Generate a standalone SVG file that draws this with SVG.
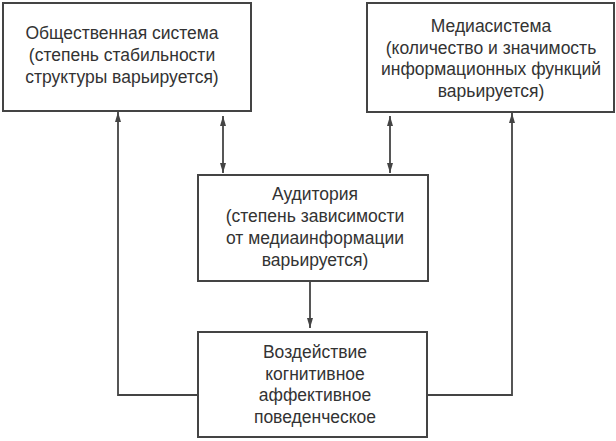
<svg xmlns="http://www.w3.org/2000/svg" width="616" height="441" viewBox="0 0 616 441">
<style>
.box{fill:#ffffff;stroke:#444;stroke-width:2}
.t{font-family:"Liberation Sans",Arial,sans-serif;font-size:17.5px;fill:#333;text-anchor:middle}
.c{fill:none;stroke:#444;stroke-width:1.8}
</style>
<defs>
<marker id="ah" viewBox="0 0 10 6" refX="10" refY="3" markerWidth="10" markerHeight="6" markerUnits="userSpaceOnUse" orient="auto-start-reverse">
<path d="M0,0 L10,3 L0,6 Z" fill="#444"/>
</marker>
</defs>
<rect width="616" height="441" fill="#ffffff"/>
<g id="connectors">
<path class="c" d="M198,395 H118 V112" marker-end="url(#ah)"/>
<path class="c" d="M427,395 H512 V113" marker-end="url(#ah)"/>
<path class="c" d="M223,116 V173" marker-start="url(#ah)" marker-end="url(#ah)"/>
<path class="c" d="M390,116 V173" marker-start="url(#ah)" marker-end="url(#ah)"/>
<path class="c" d="M310,281 V328" marker-end="url(#ah)"/>
</g>
<g id="society">
<rect class="box" x="3" y="3" width="248" height="108"/>
<text class="t" x="122" y="39">Общественная система</text>
<text class="t" x="122" y="61">(степень стабильности</text>
<text class="t" x="122" y="83">структуры варьируется)</text>
</g>
<g id="media">
<rect class="box" x="367" y="3" width="247" height="109"/>
<text class="t" x="491" y="32">Медиасистема</text>
<text class="t" x="491" y="53.5">(количество и значимость</text>
<text class="t" x="491" y="75">информационных функций</text>
<text class="t" x="491" y="96.5">варьируется)</text>
</g>
<g id="audience">
<rect class="box" x="198" y="175" width="230" height="106"/>
<text class="t" x="315" y="200">Аудитория</text>
<text class="t" x="315" y="222">(степень зависимости</text>
<text class="t" x="315" y="244">от медиаинформации</text>
<text class="t" x="315" y="266">варьируется)</text>
</g>
<g id="effect">
<rect class="box" x="198" y="332" width="229" height="105"/>
<text class="t" x="315" y="358">Воздействие</text>
<text class="t" x="315" y="379.5">когнитивное</text>
<text class="t" x="315" y="401">аффективное</text>
<text class="t" x="315" y="422.5">поведенческое</text>
</g>
</svg>
